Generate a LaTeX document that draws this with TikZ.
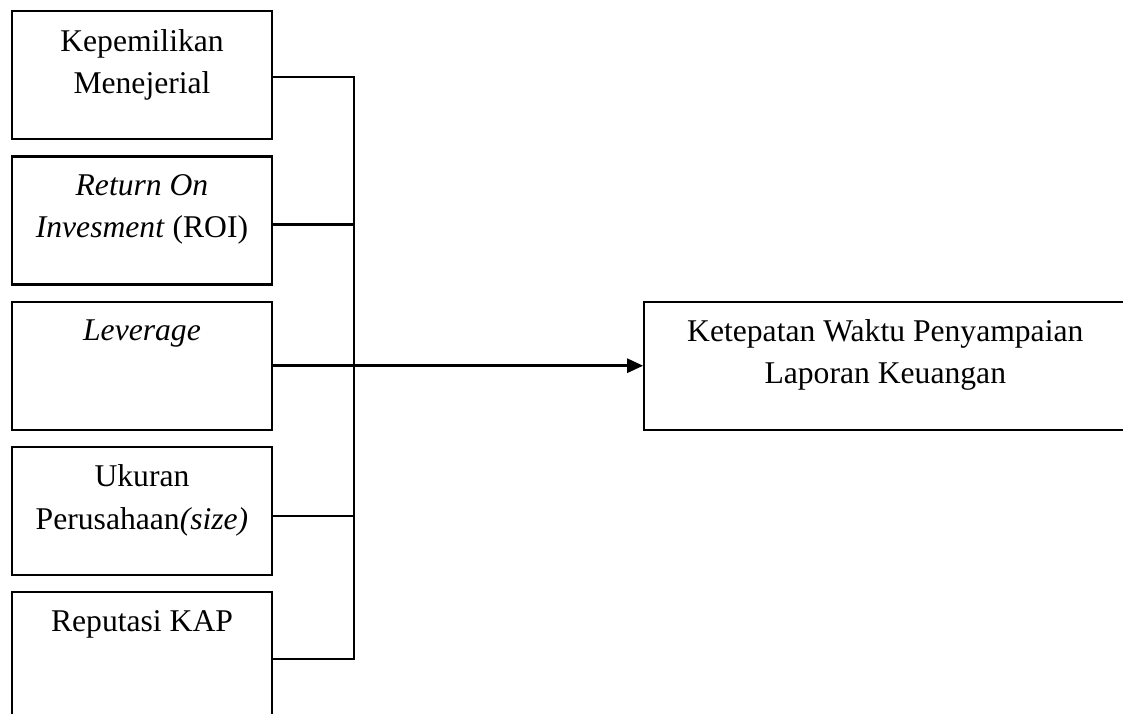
\documentclass[tikz,border=0pt]{standalone}
\usepackage{fontspec}
\setmainfont{Liberation Serif}
\usepackage{tikz}
\usetikzlibrary{positioning,arrows.meta}

\begin{document}
\begin{tikzpicture}[
  font=\fontsize{18pt}{24pt}\selectfont,
  line width=1.3pt,
  varbox/.style={draw,minimum width=5.2cm,minimum height=2.56cm,inner sep=0pt},
  boxtext/.style={anchor=north,align=center,inner sep=0pt,yshift=-0.36cm},
  arr/.style={line width=1.6pt,-{Triangle[length=0.32cm,width=0.28cm]}}]
  \useasboundingbox (0,0) rectangle (22.46,-14.26);
  \clip (0,0) rectangle (22.46,-14.26);
  % independent variables
  \node[varbox,anchor=north,label={[boxtext]north:Kepemilikan\\Menejerial}] (kep) at (2.84,-0.2) {};
  \node[varbox,below=0.3cm of kep,label={[boxtext]north:\textit{Return On}\\\textit{Invesment} (ROI)}] (roi) {};
  \node[varbox,below=0.3cm of roi,label={[boxtext]north:\textit{Leverage}}] (lev) {};
  \node[varbox,below=0.3cm of lev,label={[boxtext]north:Ukuran\\Perusahaan\textit{(size)}}] (uku) {};
  \node[varbox,below=0.3cm of uku,label={[boxtext]north:Reputasi KAP}] (rep) {};
  % dependent variable
  \node[varbox,minimum width=9.64cm,right=7.4cm of lev,label={[boxtext]north:Ketepatan Waktu Penyampaian\\Laporan Keuangan}] (ktp) {};
  % connectors
  \path (lev.east) ++(1.62,0) coordinate (jn);
  \draw ([yshift=-0.04cm]kep.east) -| (jn);
  \draw ([yshift=-0.06cm]rep.east) -| (jn);
  \draw ([yshift=-0.08cm]roi.east) -- ([yshift=-0.08cm]roi.east -| jn);
  \draw ([yshift=-0.1cm]uku.east) -- ([yshift=-0.1cm]uku.east -| jn);
  \draw[arr] (lev.east) -- (ktp.west);
\end{tikzpicture}
\end{document}
